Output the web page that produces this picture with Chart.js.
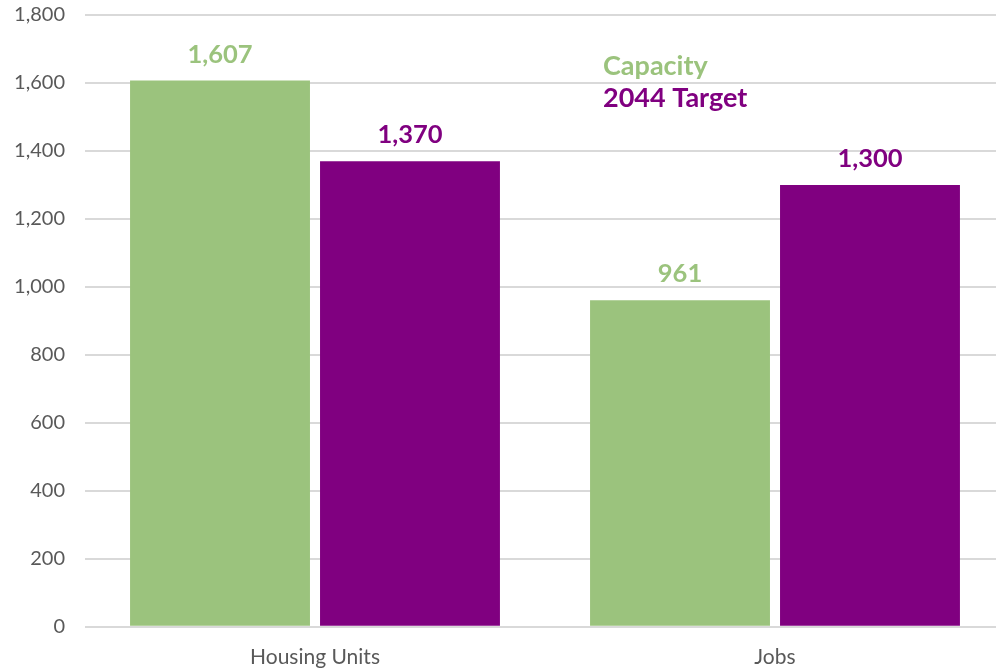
<!DOCTYPE html>
<html>
<head>
<meta charset="utf-8">
<script src="https://cdn.jsdelivr.net/npm/chart.js@4"></script>
<style>
    html, body { margin: 0; padding: 0; overflow: hidden; background: #fff; }
    #wrap { width: 1005px; height: 700px; margin-top: -17px; }
</style>
</head>
<body>
<div id="wrap"><canvas id="capChart" width="1005" height="700"></canvas></div>
<script>
const categories = ['Housing Units', 'Jobs'];
const capacity = [1607, 961];
const target2044 = [1370, 1300];
const seriesNames = ['Capacity', '2044 Target'];
const yTicks = [0, 200, 400, 600, 800, 1000, 1200, 1400, 1600, 1800];

const green = '#9BC37D';
const purple = '#800080';

// labels above each bar, plus the two-line text legend
const labelPlugin = {
    id: 'barLabels',
    afterDatasetsDraw(chart) {
        const ctx = chart.ctx;
        ctx.save();
        ctx.font = 'bold 25.5px Lato';
        ctx.textAlign = 'center';
        ctx.textBaseline = 'middle';
        chart.data.datasets.forEach((ds, i) => {
            chart.getDatasetMeta(i).data.forEach((bar, j) => {
                ctx.fillStyle = ds.backgroundColor;
                ctx.fillText(ds.data[j].toLocaleString('en-US'), bar.x, bar.y - 26);
            });
        });
        ctx.font = 'bold 27px Lato';
        ctx.textAlign = 'left';
        chart.data.datasets.forEach((ds, i) => {
            ctx.fillStyle = ds.backgroundColor;
            ctx.fillText(ds.label, 603, 66 + 17 + i * 32);
        });
        ctx.restore();
    }
};

const ctx = document.getElementById('capChart').getContext('2d');
const capChart = new Chart(ctx, {
    type: 'bar',
    data: {
        labels: categories,
        datasets: [
            { label: seriesNames[0], data: capacity, backgroundColor: green },
            { label: seriesNames[1], data: target2044, backgroundColor: purple }
        ]
    },
    options: {
        responsive: false,
        animation: false,
        layout: { padding: { top: -12, left: 0, right: 0, bottom: 3 } },
        categoryPercentage: 0.826,
        barPercentage: 0.947,
        plugins: {
            legend: { display: false },
            tooltip: { enabled: false }
        },
        scales: {
            x: {
                grid: { display: false },
                border: { display: false },
                ticks: { color: '#595959', font: { family: 'Lato', size: 21 }, padding: 10 }
            },
            y: {
                min: 0,
                max: 1800,
                afterBuildTicks: (scale) => { scale.ticks = yTicks.map(v => ({ value: v })); },
                afterFit: (scale) => { scale.width = 85; },
                grid: { color: '#D9D9D9', lineWidth: 2, drawTicks: false },
                border: { display: false },
                ticks: {
                    color: '#595959',
                    font: { family: 'Lato', size: 20 },
                    padding: 20,
                    callback: v => v.toLocaleString('en-US')
                }
            }
        }
    },
    plugins: [labelPlugin]
});
</script>
</body>
</html>
